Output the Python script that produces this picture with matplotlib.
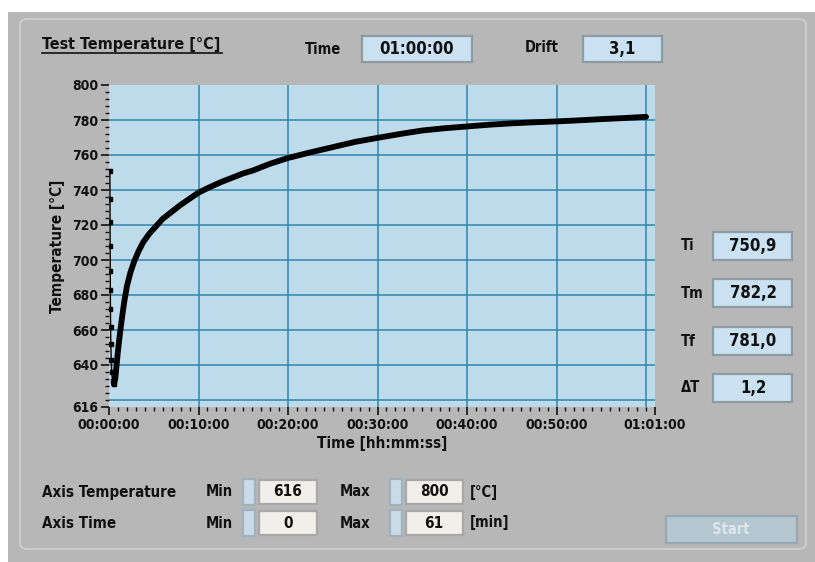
import matplotlib
matplotlib.use("Agg")
import matplotlib.pyplot as plt
from matplotlib.patches import Rectangle, FancyBboxPatch
from matplotlib.ticker import FixedLocator, MultipleLocator

# ---- data ----
# first seconds: sensor drops from the initial value (dotted)
drop_time = [0.10, 0.11, 0.12, 0.13, 0.14, 0.15, 0.16, 0.18, 0.20, 0.25, 0.30, 0.40, 0.55]
drop_temp = [750.9, 735, 722, 708, 694, 683, 672, 662, 652, 643, 636, 631, 629]

# recovery curve (minutes, degC)
rise_time = [0.55, 0.7, 0.85, 1.0, 1.2, 1.45, 1.7, 2.0, 2.4, 2.8, 3.3, 3.8, 4.5, 5.2,
             6.0, 7.0, 8.0, 9.0, 10.0, 11.0, 12.5, 14.0, 15.0, 16.0, 18.0, 20.0,
             22.5, 25.0, 27.5, 30.0, 32.5, 35.0, 37.5, 40.0, 42.5, 45.0, 47.5,
             50.0, 52.5, 55.0, 57.5, 60.0]
rise_temp = [629, 632, 640, 648, 657, 667, 676, 685, 693, 699, 705, 710, 715, 719,
             723.5, 727.5, 731.5, 735, 738.5, 741, 744.5, 747.5, 749.5, 751, 755, 758.3,
             761.5, 764.5, 767.5, 769.8, 772, 774, 775.3, 776.3, 777.3, 778.1, 778.7,
             779.2, 779.8, 780.5, 781.1, 781.8]

y_ticks = [616, 640, 660, 680, 700, 720, 740, 760, 780, 800]
y_grid = [620, 640, 660, 680, 700, 720, 740, 760, 780]
x_ticks = [0, 10, 20, 30, 40, 50, 61]
x_tick_labels = ["00:00:00", "00:10:00", "00:20:00", "00:30:00", "00:40:00", "00:50:00", "01:01:00"]
x_grid = [10, 20, 30, 40, 50, 60]

header_values = {"Time": "01:00:00", "Drift": "3,1"}
side_labels = ["Ti", "Tm", "Tf", "\u0394T"]
side_values = ["750,9", "782,2", "781,0", "1,2"]
axis_temp_min, axis_temp_max = 616, 800
axis_time_min, axis_time_max = 0, 61

W, H = 815, 562
plt.rcParams["font.family"] = ["DejaVu Sans"]
plt.rcParams["font.stretch"] = "condensed"
plt.rcParams["font.weight"] = "bold"

panel_gray = "#b7b7b7"
plot_blue = "#bedbec"
grid_col = "#2f86ad"
box_blue = "#c9e1f1"
box_white = "#f2efea"
ink = "#111111"


def fx(x):
    return x / W


def fy(y):
    return 1 - y / H


def add_box(x0, y0, x1, y1, face, edge="#8f9ba3"):
    r = Rectangle((fx(x0), fy(y1)), fx(x1) - fx(x0), fy(y0) - fy(y1),
                  transform=fig.transFigure, facecolor=face, edgecolor=edge,
                  linewidth=1.6, zorder=1)
    fig.patches.append(r)


def ftext(x, y, s, size=10, ha="left", **kw):
    fig.text(fx(x), fy(y), s, fontsize=size, ha=ha, va="center",
             fontweight="bold", color=kw.pop("color", ink), zorder=6, **kw)


fig = plt.figure(figsize=(W / 100, H / 100), dpi=100)
fig.patch.set_facecolor("white")

# window background + inner panel frame
fig.patches.append(Rectangle((fx(8), fy(H)), 1, fy(12) - fy(H), transform=fig.transFigure,
                             facecolor=panel_gray, edgecolor="none", zorder=-2))
fig.patches.append(FancyBboxPatch((fx(20), fy(549)), fx(806) - fx(20), fy(19) - fy(549),
                                  boxstyle="round,pad=0,rounding_size=0.01",
                                  transform=fig.transFigure, facecolor="none",
                                  edgecolor="#cbcbcb", linewidth=1.5, zorder=-1))

# ---- graph ----
ax = fig.add_axes([fx(109), fy(407), fx(655) - fx(109), fy(85) - fy(407)])
ax.set_zorder(5)
ax.set_facecolor(plot_blue)
ax.set_xlim(axis_time_min, axis_time_max)
ax.set_ylim(axis_temp_min, axis_temp_max)
for v in y_grid:
    ax.axhline(v, color=grid_col, lw=1.1, zorder=1)
for v in x_grid:
    ax.axvline(v, color=grid_col, lw=1.1, zorder=1)

ax.plot(drop_time, drop_temp, color="black", lw=1.0, marker="s", ms=2.5, zorder=3)
ax.plot(rise_time, rise_temp, color="black", lw=4.2, solid_capstyle="round", zorder=3)

for s in ax.spines.values():
    s.set_visible(False)

ax.yaxis.set_major_locator(FixedLocator(y_ticks))
ax.yaxis.set_minor_locator(MultipleLocator(4))
ax.xaxis.set_major_locator(FixedLocator(x_ticks))
ax.xaxis.set_minor_locator(MultipleLocator(1))
ax.set_xticklabels(x_tick_labels)
ax.tick_params(axis="both", which="major", length=6, width=1.2, color=ink,
               labelsize=10, labelcolor=ink, pad=2)
ax.tick_params(axis="both", which="minor", length=3, width=1.0, color=ink)
for lab in ax.get_xticklabels() + ax.get_yticklabels():
    lab.set_fontweight("bold")
ax.set_ylabel("Temperature [\u00b0C]", fontsize=11, fontweight="bold", color=ink, labelpad=5)
ax.set_xlabel("Time [hh:mm:ss]", fontsize=11, fontweight="bold", color=ink, labelpad=3)

# ---- header ----
fig.text(fx(42), fy(44), "Test Temperature [\u00b0C]", fontsize=11.5, fontweight="bold",
         color=ink, va="center", ha="left")
fig.lines.append(plt.Line2D([fx(42), fx(222)], [fy(53), fy(53)], transform=fig.transFigure,
                            color=ink, lw=1.2))
ftext(305, 49, "Time", size=10.5)
add_box(362, 36, 472, 62, box_blue)
ftext(417, 49, header_values["Time"], size=12, ha="center")
ftext(525, 47, "Drift", size=10.5)
add_box(583, 36, 662, 62, box_blue)
ftext(622, 49, header_values["Drift"], size=12, ha="center")

# ---- side readouts ----
rows_y = [246, 293, 341, 388]
for lab, val, yy in zip(side_labels, side_values, rows_y):
    ftext(681, yy, lab, size=10.5)
    add_box(713, yy - 14, 792, yy + 14, box_blue)
    ftext(753, yy, val, size=12, ha="center")

# ---- axis controls ----
ctrl_rows = [(492, "Axis Temperature", axis_temp_min, axis_temp_max, "[\u00b0C]"),
             (523, "Axis Time", axis_time_min, axis_time_max, "[min]")]
for yy, name, vmin, vmax, unit in ctrl_rows:
    ftext(42, yy, name, size=10.8)
    ftext(206, yy, "Min", size=10.5)
    add_box(243, yy - 13, 255, yy + 13, "#c9dbe6", edge="#9fb3bf")
    add_box(259, yy - 12, 317, yy + 12, box_white, edge="#a8a8a8")
    ftext(288, yy, str(vmin), size=11, ha="center")
    ftext(340, yy, "Max", size=10.5)
    add_box(390, yy - 13, 402, yy + 13, "#c9dbe6", edge="#9fb3bf")
    add_box(406, yy - 12, 463, yy + 12, box_white, edge="#a8a8a8")
    ftext(434, yy, str(vmax), size=11, ha="center")
    ftext(470, yy, unit, size=10.5)

# start button (disabled)
add_box(666, 516, 797, 543, "#b4c6d0", edge="#95a8b3")
ftext(731, 530, "Start", size=10.5, ha="center", color="#dfe6ea")

fig.savefig("out.png", dpi=100, facecolor=fig.get_facecolor())
